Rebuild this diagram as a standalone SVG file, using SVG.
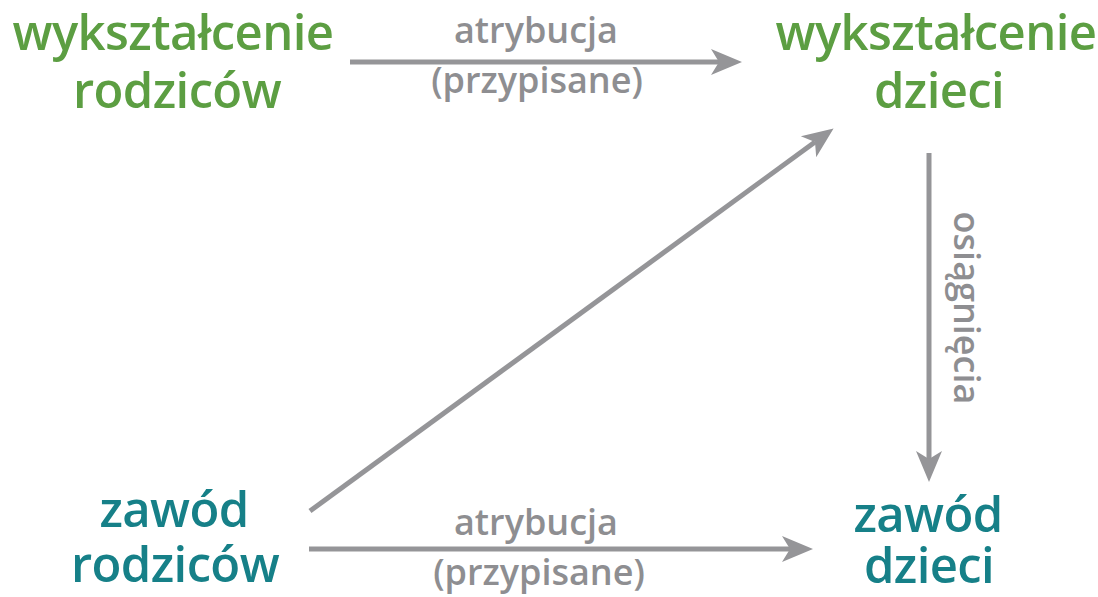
<svg xmlns="http://www.w3.org/2000/svg" width="1098" height="597" viewBox="0 0 1098 597">
<style>
.n{font-family:"Open Sans","Noto Sans",sans-serif;font-weight:600;font-size:49px;letter-spacing:-0.6px;text-anchor:middle}
.g{fill:#5c9e42}
.t{fill:#168088}
.l{font-family:"Open Sans","Noto Sans",sans-serif;font-weight:600;font-size:36px;fill:#8e8e91;text-anchor:middle}
.c{stroke:#959598;stroke-width:5;fill:none;marker-end:url(#ah)}
</style>
<defs>
<marker id="ah" markerUnits="userSpaceOnUse" markerWidth="32" markerHeight="28" refX="8" refY="13" orient="auto" viewBox="0 0 32 26">
<path d="M0,0 L31,13 L0,26 L8,13 Z" fill="#959598"/>
</marker>
</defs>
<rect width="1098" height="597" fill="#ffffff"/>
<g id="connectors">
<path class="c" d="M350,62 L719,62"/>
<path class="c" d="M929,153 L929,459"/>
<path class="c" d="M310,511 L815,142"/>
<path class="c" d="M309,549 L790,549"/>
</g>
<g id="wyksztalcenie-rodzicow"><text class="n g" x="173" y="50">wykształcenie</text><text class="n g" x="177" y="108">rodziców</text></g>
<g id="wyksztalcenie-dzieci"><text class="n g" x="936" y="50">wykształcenie</text><text class="n g" x="939" y="108">dzieci</text></g>
<g id="zawod-rodzicow"><text class="n t" x="174" y="527">zawód</text><text class="n t" x="175" y="582">rodziców</text></g>
<g id="zawod-dzieci"><text class="n t" x="928" y="532">zawód</text><text class="n t" x="929" y="583">dzieci</text></g>
<g id="labels">
<text class="l" x="536" y="43">atrybucja</text>
<text class="l" x="537" y="93">(przypisane)</text>
<text class="l" x="536" y="535">atrybucja</text>
<text class="l" x="539" y="585">(przypisane)</text>
<text class="l" transform="translate(954,308) rotate(90)" x="0" y="0">osiągnięcia</text>
</g>
</svg>
